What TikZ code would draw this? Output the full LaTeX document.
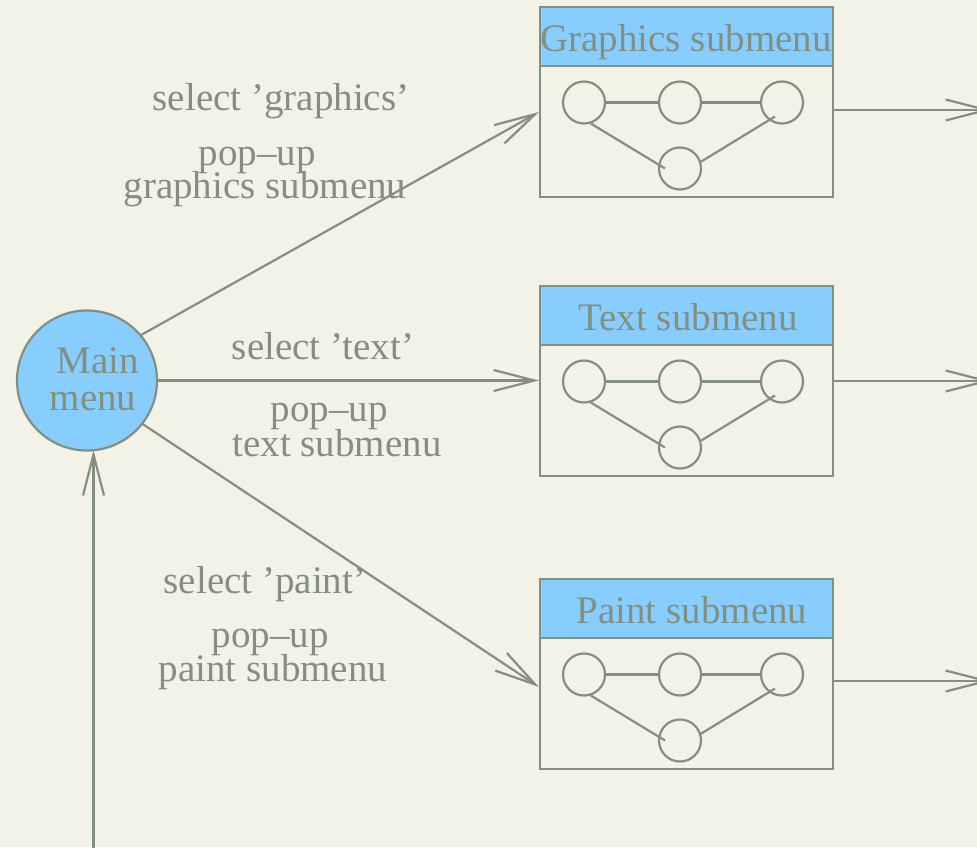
\documentclass[tikz,border=0pt]{standalone}
\usepackage{fontspec}
\setmainfont{Liberation Serif}
\usetikzlibrary{arrows.meta}
\definecolor{bgc}{RGB}{242,242,230}
\definecolor{ink}{RGB}{131,143,128}
\definecolor{sky}{RGB}{135,206,255}
\newcommand\subbox[4]{%
 \node[hdr] (#1h) at (686.5,#2+29.5) {};
 \node[bodybox] (#1b) at (686.5,#2+124.5) {};
 \node[txt] (#1t) at (#4,#2+44.5) {#3};
 \node[dot] (#1l) at (584,#2+95.5) {};
 \node[dot] (#1m) at (680,#2+95.5) {};
 \node[dot] (#1r) at (782,#2+95.5) {};
 \node[dot] (#1d) at (680,#2+161.5) {};
 \draw (#1l) -- (#1m);
 \draw (#1m) -- (#1r);
 \draw (#1l.-72) -- ([xshift=-15pt]#1d.center);
 \draw (#1d.18) -- ([xshift=-7pt,yshift=-14pt]#1r.center);
}
\begin{document}
\begin{tikzpicture}[x=1pt,y=-1pt,line width=2.2pt,draw=ink,
  txt/.style={font=\fontsize{39}{29}\selectfont,text=ink,inner sep=0pt,anchor=base},
  hdr/.style={draw=ink,fill=sky,minimum width=293pt,minimum height=59pt,inner sep=0pt},
  bodybox/.style={draw=ink,minimum width=293pt,minimum height=131pt,inner sep=0pt},
  dot/.style={draw=ink,circle,minimum size=42pt,inner sep=0pt},
  arr/.style={draw=ink,-{Straight Barb[length=41pt,width=21pt]}}]
\fill[bgc] (0,0) rectangle (977,847);
\useasboundingbox (0,0) rectangle (977,847);
\clip (0,0) rectangle (977,847);

% main menu
\node[circle,draw=ink,fill=sky,minimum size=140pt,inner sep=0pt] (main) at (87,380.5) {};
\node[txt] (mainA) at (98,373) {Main};
\node[txt] (mainB) at (93,410) {menu};

% submenus
\subbox{g}{7}{Graphics submenu}{686}
\subbox{t}{286}{Text submenu}{688}
\subbox{p}{579}{Paint submenu}{692}

% labels
\node[txt] (lg1) at (281,110) {select ’graphics’};
\node[txt] (lg2) at (257,165) {pop–up};
\node[txt] (lg3) at (265,198) {graphics submenu};
\node[txt] (lt1) at (323,359) {select ’text’};
\node[txt] (lt2) at (329,421) {pop–up};
\node[txt] (lt3) at (337,456) {text submenu};
\node[txt] (lp1) at (265,593) {select ’paint’};
\node[txt] (lp2) at (270,647) {pop–up};
\node[txt] (lp3) at (273,681) {paint submenu};

% connectors
\coordinate (gin) at (539,112);
\coordinate (tin) at (539,380.5);
\coordinate (pin) at (539,687);
\draw[arr] (main.40) -- (gin);
\draw[arr] (main.east) -- (tin);
\draw[arr] (main.-38) -- (pin);
\coordinate (upbot) at (93.5,870);
\coordinate (uptip) at (93.5,450);
\draw[arr] (upbot) -- (uptip);
\coordinate (gout) at (991,110);
\coordinate (tout) at (991,381);
\coordinate (pout) at (991,681);
\draw[arr] (gb.east |- gout) -- (gout);
\draw[arr] (tb.east |- tout) -- (tout);
\draw[arr] (pb.east |- pout) -- (pout);
\end{tikzpicture}
\end{document}
